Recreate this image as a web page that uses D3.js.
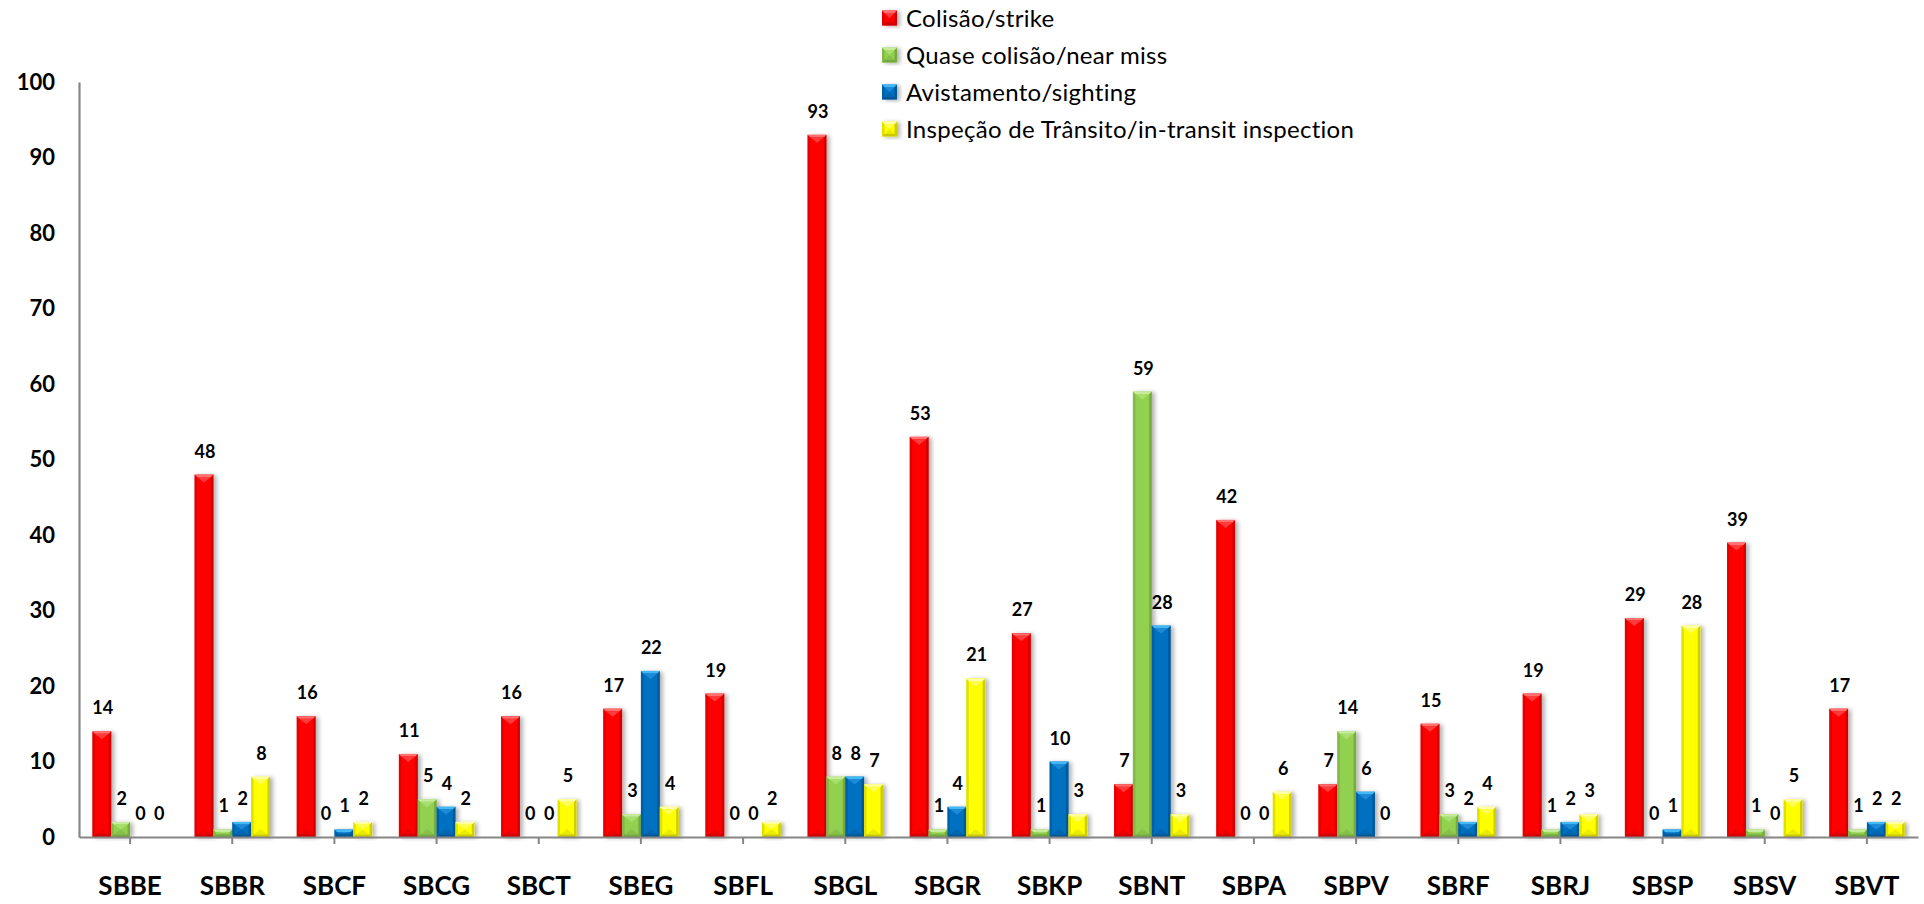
<!DOCTYPE html>
<html>
<head>
<meta charset="utf-8">
<script src="https://cdn.jsdelivr.net/npm/d3@7"></script>
<style>
  html, body { margin: 0; padding: 0; background: #ffffff; }
  svg { display: block; }
</style>
</head>
<body>
<svg id="chart" width="1924" height="904"></svg>
<script>
// ---- data ----
const categories = ["SBBE","SBBR","SBCF","SBCG","SBCT","SBEG","SBFL","SBGL","SBGR","SBKP","SBNT","SBPA","SBPV","SBRF","SBRJ","SBSP","SBSV","SBVT"];
const seriesNames = ["Colisão/strike","Quase colisão/near miss","Avistamento/sighting","Inspeção de Trânsito/in-transit inspection"];
const strike    = [14,48,16,11,16,17,19,93,53,27, 7,42, 7,15,19,29,39,17];
const nearMiss  = [ 2, 1, 0, 5, 0, 3, 0, 8, 1, 1,59, 0,14, 3, 1, 0, 1, 1];
const sighting  = [ 0, 2, 1, 4, 0,22, 0, 8, 4,10,28, 0, 6, 2, 2, 1, 0, 2];
const inTransit = [ 0, 8, 2, 2, 5, 4, 2, 7,21, 3, 3, 6, 0, 4, 3,28, 5, 2];
const yTicks = [0,10,20,30,40,50,60,70,80,90,100];

const seriesValues = [strike, nearMiss, sighting, inTransit];
const palette = [
  {base:"#FF0000", light:"#FF7070", mid:"#FF3A3A", dark:"#C00000"},
  {base:"#92D050", light:"#C8EC9E", mid:"#A8DE6C", dark:"#6E9E3A"},
  {base:"#0070C0", light:"#43B8F5", mid:"#1E8AD6", dark:"#00508A"},
  {base:"#FFFF00", light:"#FFFFA8", mid:"#FFFF55", dark:"#BDBD00"}
];

// ---- layout ----
const svg = d3.select("#chart");
const X0 = 79, X1 = 1918, Y0 = 837, Y1 = 82;

const x = d3.scaleBand().domain(categories).range([X0, X1]).paddingInner(0.262).paddingOuter(0.131);
const xs = d3.scaleBand().domain(d3.range(seriesNames.length)).range([0, x.bandwidth()]).padding(0);
const y = d3.scaleLinear().domain([0, 100]).range([Y0, Y1]);

const defs = svg.append("defs");
const f = defs.append("filter").attr("id","shadow").attr("x","-50%").attr("y","-20%").attr("width","200%").attr("height","140%");
f.append("feDropShadow").attr("dx",3).attr("dy",1).attr("stdDeviation",2).attr("flood-color","#000").attr("flood-opacity",0.3);

// draws a bevelled box
function bevelBox(g, bx, by, w, h, p) {
  if (h <= 0) return;
  const s = Math.min(2.5, h/3, w/4);
  const t = Math.min(8, h/2);
  const gg = g.append("g").attr("filter","url(#shadow)");
  gg.append("rect").attr("x",bx).attr("y",by).attr("width",w).attr("height",h).attr("fill",p.base);
  gg.append("polygon").attr("points",[[bx,by],[bx+s,by+s],[bx+s,by+h-s],[bx,by+h]].join(" ")).attr("fill",p.dark).attr("opacity",0.45);
  gg.append("polygon").attr("points",[[bx+w,by],[bx+w-s,by+s],[bx+w-s,by+h-s],[bx+w,by+h]].join(" ")).attr("fill",p.dark).attr("opacity",0.75);
  gg.append("polygon").attr("points",[[bx,by],[bx+w,by],[bx+w-s,by+s],[bx+s,by+s]].join(" ")).attr("fill",p.light);
  gg.append("polygon").attr("points",[[bx+s,by+s],[bx+w-s,by+s],[bx+w/2,by+t]].join(" ")).attr("fill",p.mid);
  gg.append("polygon").attr("points",[[bx,by+h],[bx+w,by+h],[bx+w-s,by+h-s],[bx+s,by+h-s]].join(" ")).attr("fill",p.dark).attr("opacity",0.8);
  gg.append("polygon").attr("points",[[bx+s,by+h-s],[bx+w-s,by+h-s],[bx+w/2,by+h-t]].join(" ")).attr("fill",p.dark).attr("opacity",0.3);
}

// ---- bars ----
const rows = categories.map((c,ci) => ({cat:c, vals: seriesValues.map((sv,si)=>({si, v: sv[ci]}))}));
const groups = svg.append("g").selectAll("g").data(rows).join("g")
  .attr("transform", d => `translate(${x(d.cat)},0)`);

groups.each(function(d){
  const g = d3.select(this);
  d.vals.forEach(o => {
    bevelBox(g, xs(o.si), y(o.v), xs.bandwidth(), y(0) - y(o.v), palette[o.si]);
  });
  d.vals.forEach(o => {
    g.append("text")
      .attr("x", xs(o.si) + xs.bandwidth()/2 + 1)
      .attr("y", y(o.v) - 17)
      .attr("text-anchor","middle")
      .attr("font-family","Lato, 'Liberation Sans', sans-serif")
      .attr("font-weight","bold")
      .attr("font-size","18px")
      .attr("fill","#000")
      .text(o.v);
  });
});

// ---- axes ----
const xAxis = svg.append("g").attr("transform",`translate(0,${Y0})`)
  .call(d3.axisBottom(x).tickSize(7).tickSizeOuter(0).tickPadding(33));
xAxis.select(".domain").attr("stroke","#868686").attr("stroke-width",2.2);
xAxis.selectAll(".tick line").attr("stroke","#868686").attr("stroke-width",2);
xAxis.selectAll(".tick text")
  .attr("font-family","Lato, 'Liberation Sans', sans-serif")
  .attr("font-weight","bold").attr("font-size","26px").attr("fill","#000");

const yAxis = svg.append("g").attr("transform",`translate(${X0},0)`)
  .call(d3.axisLeft(y).tickValues(yTicks).tickSize(0).tickSizeOuter(0).tickPadding(24));
yAxis.select(".domain").attr("stroke","#868686").attr("stroke-width",2.2);
yAxis.selectAll(".tick text")
  .attr("font-family","Lato, 'Liberation Sans', sans-serif")
  .attr("font-weight","bold").attr("font-size","22px").attr("fill","#000");

// ---- legend ----
const legend = svg.append("g").attr("transform","translate(882,18)");
seriesNames.forEach((name,i) => {
  const lg = legend.append("g").attr("transform",`translate(0,${i*37})`);
  bevelBox(lg, 0, -7.5, 15, 15, palette[i]);
  lg.append("text").attr("x",24).attr("y",0).attr("dy","0.36em")
    .attr("font-family","Lato, 'Liberation Sans', sans-serif")
    .attr("font-size","24px").attr("letter-spacing","0.3px").attr("fill","#000").text(name);
});
</script>
</body>
</html>
